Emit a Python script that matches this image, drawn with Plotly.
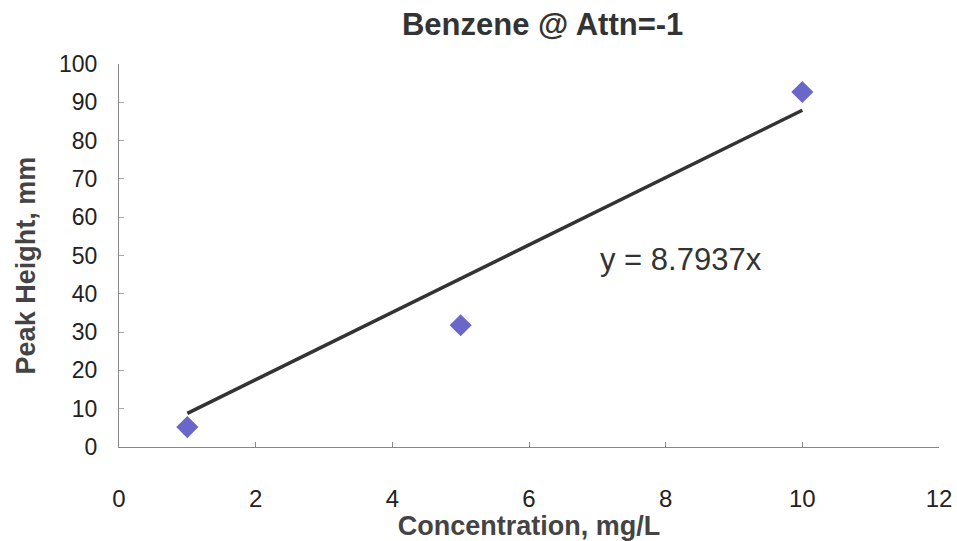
import plotly.graph_objects as go

# Calibration data: benzene peak height vs concentration
conc_mg_L = [1, 5, 10]
peak_height_mm = [5.2, 31.8, 92.7]

# Linear fit forced through the origin
slope = 8.7937
fit_x = [min(conc_mg_L), max(conc_mg_L)]
fit_y = [slope * x for x in fit_x]

x_ticks = [0, 2, 4, 6, 8, 10, 12]
y_ticks = [0, 10, 20, 30, 40, 50, 60, 70, 80, 90, 100]

FONT = "Liberation Sans, Arial, sans-serif"

fig = go.Figure()
fig.add_trace(go.Scatter(
    x=fit_x, y=fit_y, mode="lines",
    line=dict(color="#333333", width=3.5),
    showlegend=False, hoverinfo="skip",
))
fig.add_trace(go.Scatter(
    x=conc_mg_L, y=peak_height_mm, mode="markers",
    marker=dict(symbol="diamond", size=17, color="#6b66c9"),
    showlegend=False,
))

# Fit equation label
fig.add_annotation(
    x=8.23, y=49.0, xref="x", yref="y",
    text=f"y = {slope:.4f}x", showarrow=False,
    font=dict(family=FONT, size=31, color="#333333"),
)

# Y-axis title, placed as a rotated annotation
fig.add_annotation(
    x=-0.113, y=0.475, xref="paper", yref="paper",
    text="<b>Peak Height, mm</b>", textangle=-90, showarrow=False,
    xanchor="center", yanchor="middle",
    font=dict(family=FONT, size=27, color="#444444"),
)

fig.update_layout(
    width=957, height=541,
    margin=dict(l=119, r=18, t=64, b=94, autoexpand=False),
    paper_bgcolor="white", plot_bgcolor="white",
    title=dict(
        text="<b>Benzene @ Attn=-1</b>",
        x=0.567, xanchor="center", y=0.955, yanchor="middle",
        font=dict(family=FONT, size=31, color="#333333"),
    ),
    xaxis=dict(
        range=[0, 12], tickvals=x_ticks, showgrid=False, zeroline=False,
        automargin=False,
        showline=True, linecolor="#888888", linewidth=1,
        ticks="inside", ticklen=5, tickcolor="#888888",
        ticklabelstandoff=30,
        tickfont=dict(family=FONT, size=24, color="#222222"),
        title=dict(text="<b>Concentration, mg/L</b>", standoff=3,
                   font=dict(family=FONT, size=27, color="#444444")),
    ),
    yaxis=dict(
        range=[0, 100], tickvals=y_ticks, showgrid=False, zeroline=False,
        automargin=False,
        showline=True, linecolor="#888888", linewidth=1,
        ticks="inside", ticklen=5, tickcolor="#aaaaaa",
        ticklabelstandoff=16,
        tickfont=dict(family=FONT, size=23, color="#222222"),
    ),
)

fig.write_html("out.html")
